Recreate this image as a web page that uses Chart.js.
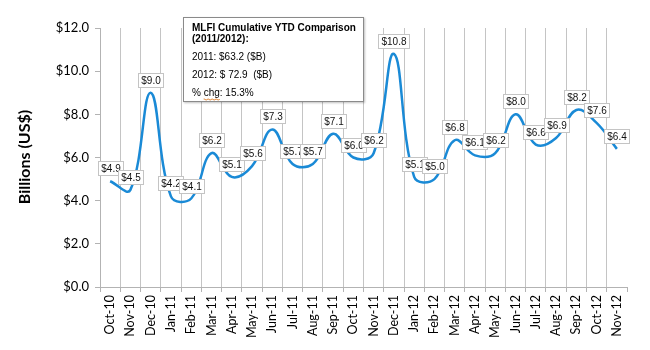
<!DOCTYPE html>
<html>
<head>
<meta charset="utf-8">
<script src="https://cdn.jsdelivr.net/npm/chart.js@4"></script>
<style>
  body { margin: 0; background: #fff; }
  canvas { display: block; }
</style>
</head>
<body>
<canvas id="chart" width="650" height="350"></canvas>
<script>
const months = ['Oct-10', 'Nov-10', 'Dec-10', 'Jan-11', 'Feb-11', 'Mar-11', 'Apr-11', 'May-11', 'Jun-11',
  'Jul-11', 'Aug-11', 'Sep-11', 'Oct-11', 'Nov-11', 'Dec-11', 'Jan-12', 'Feb-12', 'Mar-12', 'Apr-12',
  'May-12', 'Jun-12', 'Jul-12', 'Aug-12', 'Sep-12', 'Oct-12', 'Nov-12'];
const volumes = [4.9, 4.5, 9.0, 4.2, 4.1, 6.2, 5.1, 5.6, 7.3, 5.7, 5.7, 7.1, 6.0, 6.2, 10.8, 5.1, 5.0,
  6.8, 6.1, 6.2, 8.0, 6.6, 6.9, 8.2, 7.6, 6.4];
const yTicks = [0, 2, 4, 6, 8, 10, 12];
const yTitle = 'Billions (US$)';
const noteBold = ['MLFI Cumulative YTD Comparison', '(2011/2012):'];
const noteLines = ['2011: $63.2 ($B)', '2012: $ 72.9  ($B)', '% chg: 15.3%'];

const axisGray = '#b3b3b3';
const tickFont = { family: 'Lato, "Noto Sans", sans-serif', size: 13 };

// boxed value labels above each point, drawn over the line like Excel does
const valueLabels = {
  id: 'valueLabels',
  afterDatasetsDraw(chart) {
    const ctx = chart.ctx;
    const meta = chart.getDatasetMeta(0);
    ctx.save();
    ctx.font = '10px "Liberation Sans", Arial, sans-serif';
    ctx.textAlign = 'center';
    ctx.textBaseline = 'middle';
    meta.data.forEach((pt, i) => {
      const txt = '$' + volumes[i].toFixed(1);
      const w = Math.round(ctx.measureText(txt).width + 6);
      const h = 14;
      const x0 = Math.round(pt.x - w / 2);
      const y0 = Math.round(pt.y - 13 - h / 2);
      ctx.fillStyle = '#fff';
      ctx.fillRect(x0, y0, w, h);
      ctx.strokeStyle = '#c4c4c4';
      ctx.lineWidth = 1;
      ctx.strokeRect(x0 + 0.5, y0 + 0.5, w, h);
      ctx.fillStyle = '#111';
      ctx.fillText(txt, x0 + w / 2 + 0.5, y0 + h / 2 + 1);
    });
    ctx.restore();
  }
};

const extras = {
  id: 'extras',
  afterDraw(chart) {
    const ctx = chart.ctx;
    ctx.save();
    // y axis title
    ctx.translate(25, 157);
    ctx.rotate(-Math.PI / 2);
    ctx.font = 'bold 16px Lato, "Noto Sans", sans-serif';
    ctx.fillStyle = '#000';
    ctx.textAlign = 'center';
    ctx.textBaseline = 'middle';
    ctx.fillText(yTitle, 0, 0);
    ctx.restore();

    // comparison note box
    ctx.save();
    ctx.shadowColor = 'rgba(0,0,0,0.25)';
    ctx.shadowOffsetX = 1;
    ctx.shadowOffsetY = 1;
    ctx.shadowBlur = 2;
    ctx.fillStyle = '#fff';
    ctx.fillRect(183, 17, 181, 85);
    ctx.restore();
    ctx.save();
    ctx.strokeStyle = '#8a8a8a';
    ctx.lineWidth = 1;
    ctx.strokeRect(183.5, 17.5, 180, 84);
    ctx.fillStyle = '#000';
    ctx.textBaseline = 'middle';
    ctx.font = 'bold 10px "Liberation Sans", Arial, sans-serif';
    ctx.fillText(noteBold[0], 192, 28);
    ctx.fillText(noteBold[1], 192, 39);
    ctx.font = '10px "Liberation Sans", Arial, sans-serif';
    const ys = [57, 75, 93];
    noteLines.forEach((t, i) => ctx.fillText(t, 192, ys[i]));
    // spell-check squiggle under "chg"
    const sx = 192 + ctx.measureText('% ').width;
    const sw = ctx.measureText('chg').width;
    ctx.strokeStyle = '#e07b22';
    ctx.beginPath();
    for (let x = 0; x <= sw; x += 1) {
      const y = 99 + (Math.floor(x / 2) % 2 ? 1 : 0);
      if (x === 0) ctx.moveTo(sx + x, y); else ctx.lineTo(sx + x, y);
    }
    ctx.stroke();
    ctx.restore();
  }
};

new Chart(document.getElementById('chart'), {
  type: 'line',
  data: {
    labels: months,
    datasets: [{
      data: volumes,
      borderColor: '#1a8ad6',
      borderWidth: 2.5,
      tension: 0.4,
      pointRadius: 0,
      fill: false
    }]
  },
  options: {
    responsive: false,
    animation: false,
    layout: { padding: { top: 28, right: 23, left: 0, bottom: 0 } },
    plugins: { legend: { display: false }, tooltip: { enabled: false } },
    scales: {
      x: {
        offset: true,
        afterFit: s => { s.height = 63; },
        border: { color: axisGray },
        grid: {
          offset: true,
          color: c => (c.index === undefined || c.index >= months.length) ? 'rgba(0,0,0,0)' : '#c4c4c4',
          tickColor: axisGray,
          tickLength: 5
        },
        ticks: {
          autoSkip: false,
          minRotation: 90,
          maxRotation: 90,
          padding: 3,
          color: '#000',
          font: { family: tickFont.family, size: 12.5 }
        }
      },
      y: {
        min: 0,
        max: 12,
        afterBuildTicks: s => { s.ticks = yTicks.map(v => ({ value: v })); },
        afterFit: s => { s.width = 100; },
        border: { color: axisGray },
        grid: { drawOnChartArea: false, tickColor: axisGray, tickLength: 5 },
        ticks: {
          padding: 6,
          color: '#000',
          font: tickFont,
          callback: v => '$' + Number(v).toFixed(1)
        }
      }
    }
  },
  plugins: [valueLabels, extras]
});
</script>
</body>
</html>
